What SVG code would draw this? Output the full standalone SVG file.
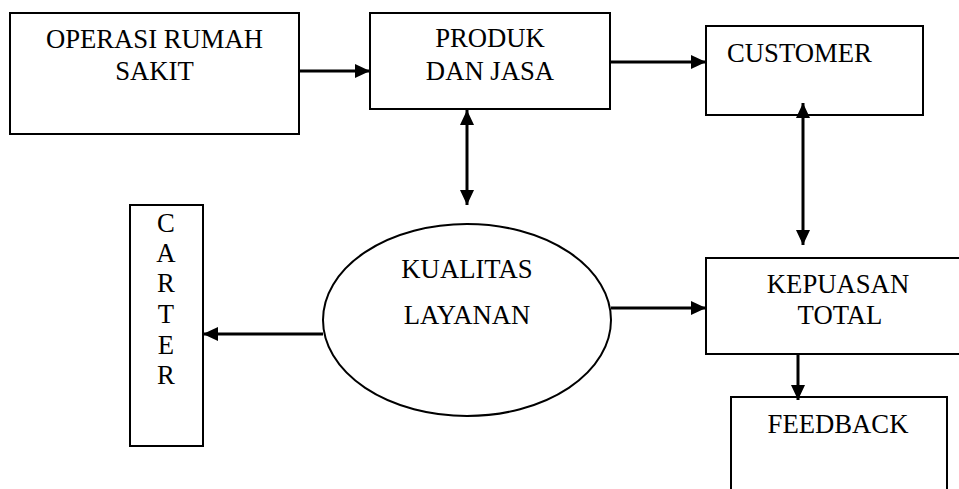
<svg xmlns="http://www.w3.org/2000/svg" width="959" height="489" viewBox="0 0 959 489">
<style>
.box{fill:#fff;stroke:#000;stroke-width:2}
.lbl{font-family:"Liberation Serif","Times New Roman",serif;font-size:26.7px;fill:#000}
.c{text-anchor:middle}
.con{stroke:#000;stroke-width:3;fill:none}
</style>
<defs>
<marker id="ah" viewBox="0 0 15 14" refX="15" refY="7" markerWidth="15" markerHeight="14" markerUnits="userSpaceOnUse" orient="auto-start-reverse">
<path d="M0,0 L15,7 L0,14 z" fill="#000"/>
</marker>
</defs>
<rect width="959" height="489" fill="#fff"/>
<g id="operasi">
<rect class="box" x="10" y="13" width="289" height="121"/>
<text class="lbl c" x="154.5" y="48">OPERASI RUMAH</text>
<text class="lbl c" x="154.5" y="80">SAKIT</text>
</g>
<g id="produk">
<rect class="box" x="370" y="13" width="240" height="96"/>
<text class="lbl c" x="490" y="47">PRODUK</text>
<text class="lbl c" x="490" y="80">DAN JASA</text>
</g>
<g id="customer">
<rect class="box" x="706" y="26" width="217" height="89"/>
<text class="lbl" x="727" y="62">CUSTOMER</text>
</g>
<g id="carter">
<rect class="box" x="130" y="205" width="73" height="241"/>
<text class="lbl c" x="166" y="232">C</text>
<text class="lbl c" x="166" y="262">A</text>
<text class="lbl c" x="166" y="292">R</text>
<text class="lbl c" x="166" y="323">T</text>
<text class="lbl c" x="166" y="354">E</text>
<text class="lbl c" x="166" y="384">R</text>
</g>
<g id="kualitas">
<ellipse class="box" cx="467" cy="320" rx="144" ry="96"/>
<text class="lbl c" x="467" y="278">KUALITAS</text>
<text class="lbl c" x="467" y="324">LAYANAN</text>
</g>
<g id="kepuasan">
<rect class="box" x="706" y="258" width="270" height="96"/>
<text class="lbl c" x="838" y="293">KEPUASAN</text>
<text class="lbl c" x="840" y="324">TOTAL</text>
</g>
<g id="feedback">
<rect class="box" x="731" y="397" width="216" height="110"/>
<text class="lbl c" x="838" y="433">FEEDBACK</text>
</g>
<g id="connectors">
<line class="con" x1="299" y1="71" x2="370" y2="71" marker-end="url(#ah)"/>
<line class="con" x1="610" y1="62" x2="706" y2="62" marker-end="url(#ah)"/>
<line class="con" x1="467" y1="110" x2="467" y2="205" marker-start="url(#ah)" marker-end="url(#ah)"/>
<line class="con" x1="803" y1="103" x2="803" y2="245" marker-start="url(#ah)" marker-end="url(#ah)"/>
<line class="con" x1="323" y1="334" x2="203" y2="334" marker-end="url(#ah)"/>
<line class="con" x1="611" y1="308" x2="706" y2="308" marker-end="url(#ah)"/>
<line class="con" x1="798" y1="354" x2="798" y2="400" marker-end="url(#ah)"/>
</g>
</svg>
